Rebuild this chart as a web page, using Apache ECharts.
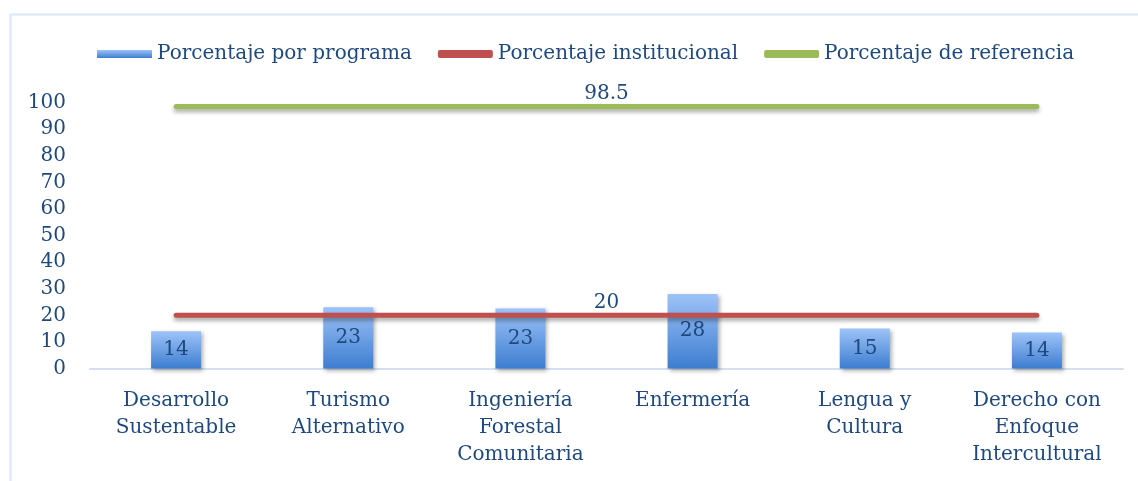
<!DOCTYPE html>
<html>
<head>
<meta charset="utf-8">
<script src="https://cdn.jsdelivr.net/npm/echarts@6/dist/echarts.min.js"></script>
<style>
  html, body { margin: 0; padding: 0; background: #fff; }
  #chart { width: 1138px; height: 481px; }
</style>
</head>
<body>
<div id="chart"></div>
<script>
var categories = ['Desarrollo\nSustentable', 'Turismo\nAlternativo', 'Ingeniería\nForestal\nComunitaria', 'Enfermería', 'Lengua y\nCultura', 'Derecho con\nEnfoque\nIntercultural'];
var porPrograma = [14, 23, 22.6, 28, 15, 13.5];
var institucional = [20, 20, 20, 20, 20, 20];
var referencia = [98.5, 98.5, 98.5, 98.5, 98.5, 98.5];
var yTicks = [0, 10, 20, 30, 40, 50, 60, 70, 80, 90, 100];

var textColor = '#1F497D';
var font = 'DejaVu Serif';

var chart = echarts.init(document.getElementById('chart'));

// etiqueta central de cada linea (como en el original de Excel)
function midLabel(value) {
    return {
        symbol: 'none',
        silent: true,
        lineStyle: { color: 'rgba(0,0,0,0)', width: 1, type: 'solid' },
        label: {
            show: true, position: 'middle', distance: 3,
            formatter: String(value), color: textColor,
            fontFamily: font, fontSize: 20
        },
        data: [[{ coord: [0, value] }, { coord: [categories.length - 1, value] }]]
    };
}

function lineSerie(name, data, color) {
    return {
        name: name,
        type: 'line',
        data: data,
        symbol: 'none',
        z: 3,
        lineStyle: {
            color: color, width: 5, cap: 'round',
            shadowColor: 'rgba(0,0,0,0.35)', shadowBlur: 4, shadowOffsetY: 3
        },
        itemStyle: { color: color },
        markLine: midLabel(data[0])
    };
}

chart.setOption({
    animation: false,
    graphic: [{
        type: 'rect',
        shape: { x: 10.5, y: 14.5, width: 1140, height: 480 },
        style: { fill: 'none', stroke: '#DAE5F5', lineWidth: 2 }
    }],
    legend: {
        left: 92, top: 39,
        itemWidth: 55, itemHeight: 8, itemGap: 26,
        textStyle: { color: textColor, fontFamily: font, fontSize: 20 },
        data: [
            { name: 'Porcentaje por programa', icon: 'rect' },
            { name: 'Porcentaje institucional', icon: 'roundRect' },
            { name: 'Porcentaje de referencia', icon: 'roundRect' }
        ]
    },
    grid: { left: 90, right: 15, top: 102.5, bottom: 112.5 },
    xAxis: {
        type: 'category',
        data: categories,
        axisLine: { lineStyle: { color: '#D4DFF0', width: 2 } },
        axisTick: { show: false },
        axisLabel: {
            color: textColor, fontFamily: font, fontSize: 20,
            lineHeight: 27, margin: 19, interval: 0
        }
    },
    yAxis: {
        type: 'value',
        min: 0, max: 100, interval: 10,
        splitLine: { show: false },
        axisLine: { show: false },
        axisTick: { show: false },
        axisLabel: {
            color: textColor, fontFamily: font, fontSize: 20, margin: 24,
            formatter: function (v) { return yTicks.indexOf(v) >= 0 ? String(v) : ''; }
        }
    },
    series: [
        {
            name: 'Porcentaje por programa',
            type: 'bar',
            data: porPrograma,
            barWidth: 50,
            z: 2,
            itemStyle: {
                color: new echarts.graphic.LinearGradient(0, 0, 0, 1, [
                    { offset: 0, color: '#9DC3F8' },
                    { offset: 1, color: '#3D7DD0' }
                ]),
                shadowColor: 'rgba(0,0,0,0.3)', shadowBlur: 4, shadowOffsetX: 2, shadowOffsetY: 2
            },
            label: {
                show: true, position: 'inside', color: textColor,
                fontFamily: font, fontSize: 20,
                formatter: function (p) { return String(Math.round(p.value)); }
            }
        },
        lineSerie('Porcentaje institucional', institucional, '#C0504D'),
        lineSerie('Porcentaje de referencia', referencia, '#9BBB59')
    ]
});
</script>
</body>
</html>
